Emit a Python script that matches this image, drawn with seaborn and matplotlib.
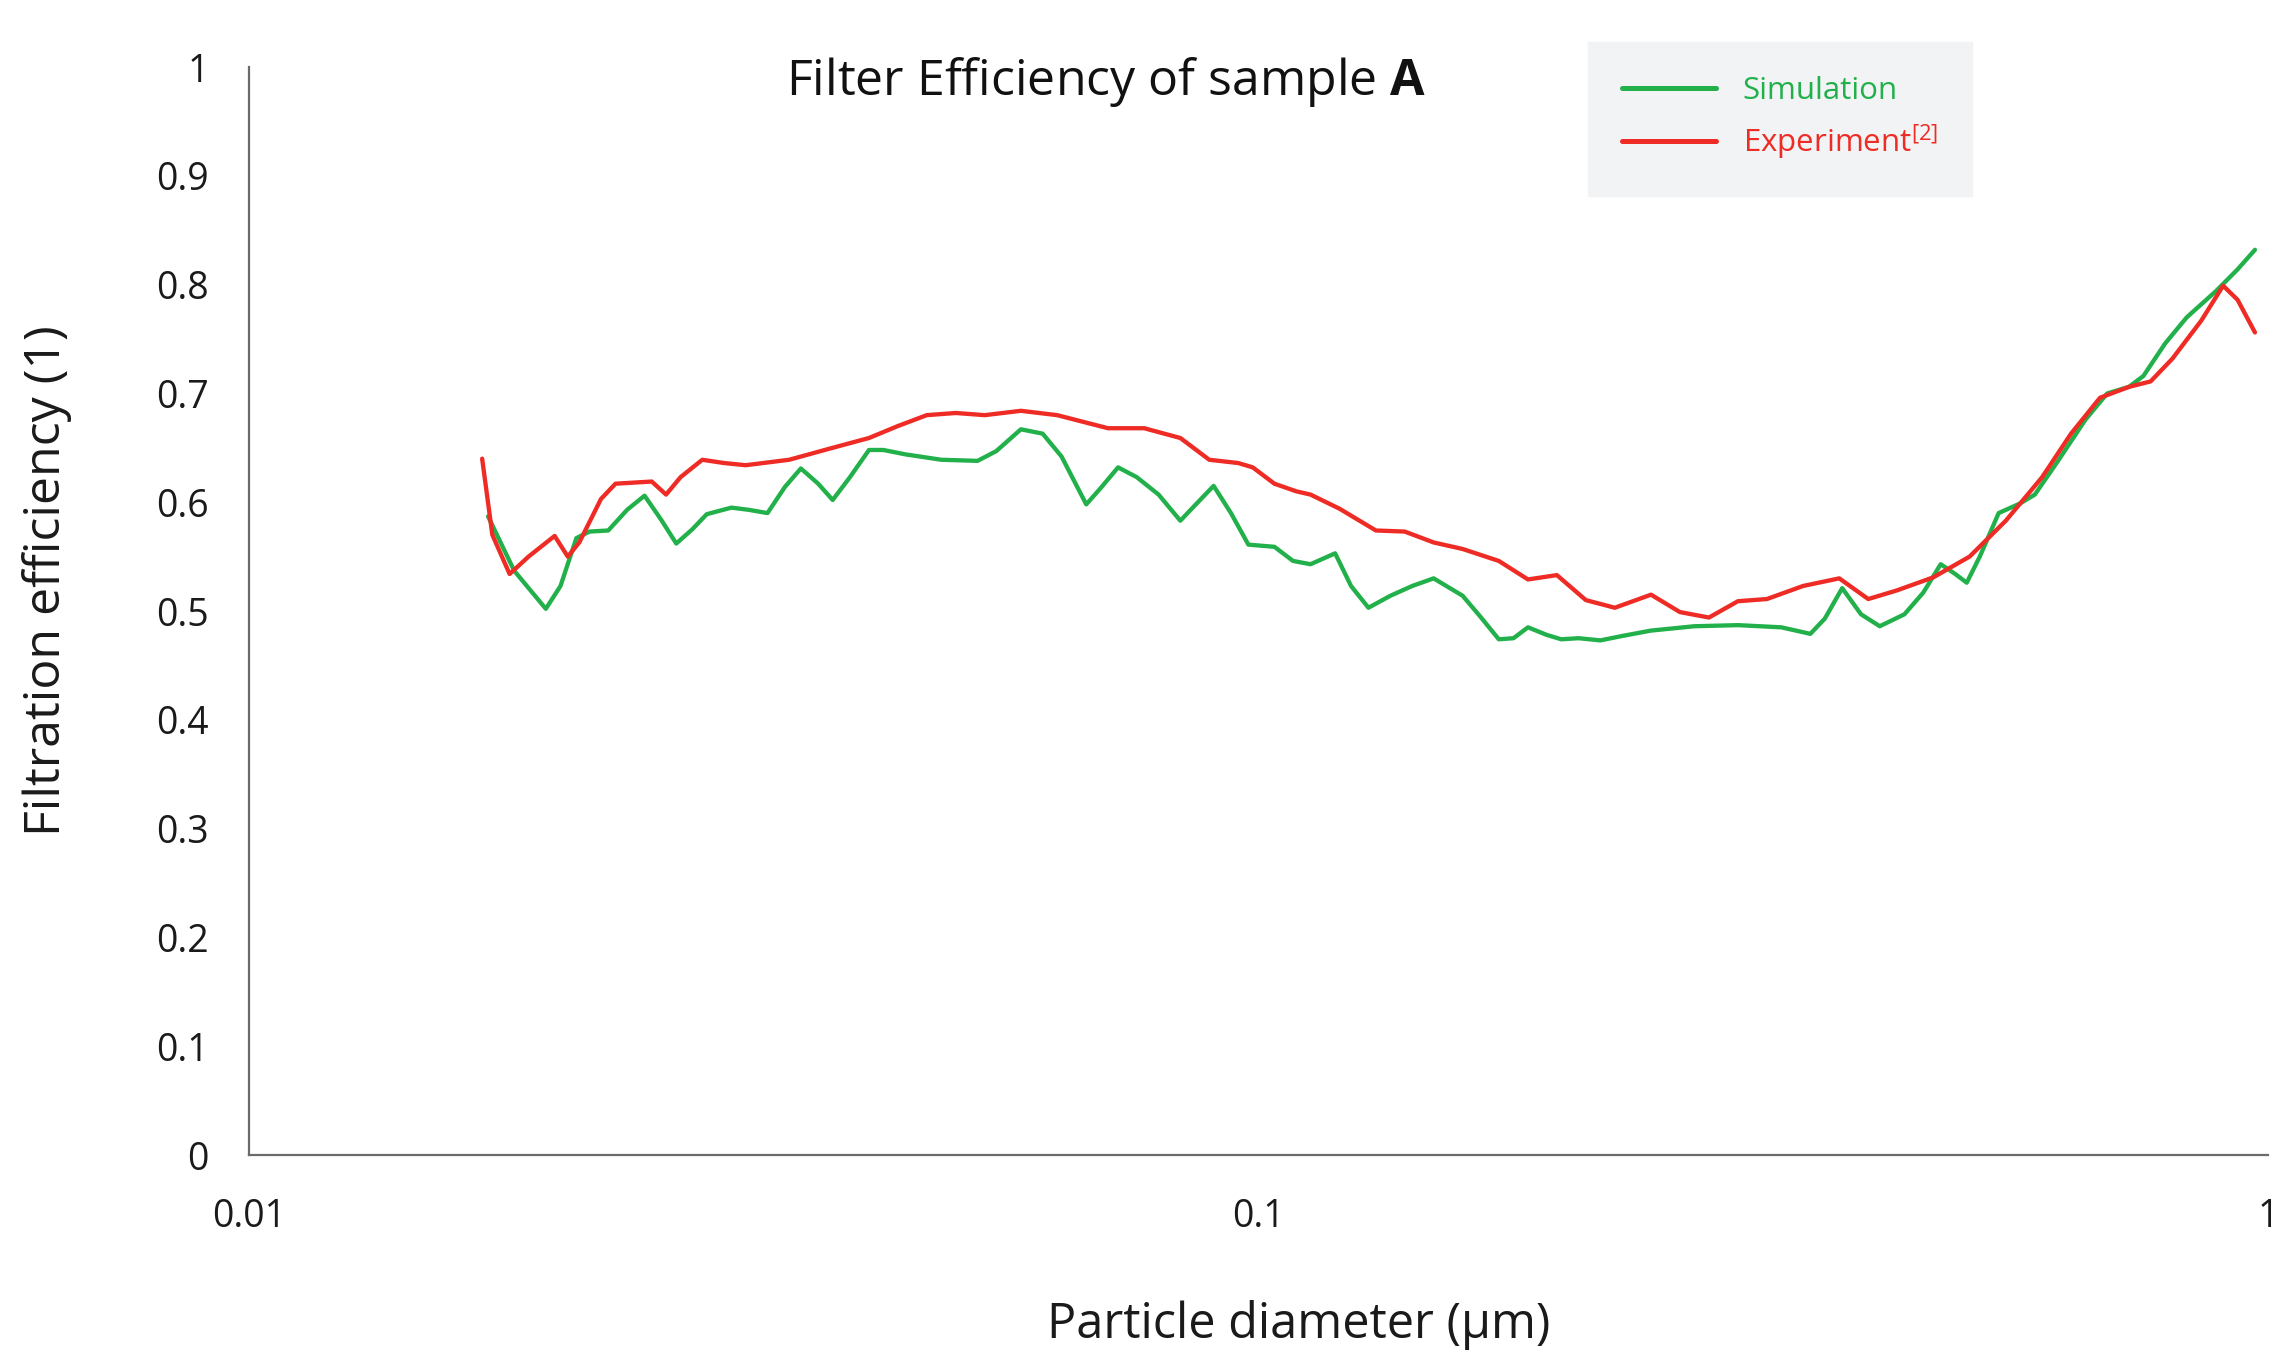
import matplotlib
matplotlib.use("Agg")
import matplotlib.pyplot as plt
import seaborn as sns
import pandas as pd

# ---- data ----
sim_diameter = [0.01725, 0.01831, 0.01968, 0.02035, 0.02110, 0.02174, 0.02269, 0.02369, 0.02465, 0.02564,
                0.02650, 0.02748, 0.02841, 0.03005, 0.03126, 0.03263, 0.03395, 0.03521, 0.03663, 0.03786,
                0.03938, 0.04113, 0.04250, 0.04467, 0.04851, 0.05269, 0.05499, 0.05816, 0.06112, 0.06381,
                0.06751, 0.06977, 0.07259, 0.07576, 0.07962, 0.08367, 0.08648, 0.09027, 0.09391, 0.09772,
                0.1037, 0.1082, 0.1126, 0.1191, 0.1235, 0.1285, 0.1351, 0.1420, 0.1491, 0.1593,
                0.1658, 0.1730, 0.1789, 0.1849, 0.1930, 0.1995, 0.2075, 0.2181, 0.2291, 0.2448,
                0.2703, 0.2985, 0.3295, 0.3521, 0.3639, 0.3786, 0.3952, 0.4125, 0.4364, 0.4556,
                0.4740, 0.4900, 0.5030, 0.5182, 0.5410, 0.5685, 0.5875, 0.6174, 0.6596, 0.6931,
                0.7282, 0.7526, 0.7910, 0.8310, 0.8880, 0.9330, 0.9707]
sim_efficiency = [0.587, 0.537, 0.502, 0.523, 0.567, 0.573, 0.574, 0.593, 0.606, 0.583,
                  0.562, 0.575, 0.589, 0.595, 0.593, 0.590, 0.614, 0.631, 0.617, 0.602,
                  0.623, 0.648, 0.648, 0.644, 0.639, 0.638, 0.647, 0.667, 0.663, 0.642,
                  0.598, 0.613, 0.632, 0.623, 0.607, 0.583, 0.597, 0.615, 0.590, 0.561,
                  0.559, 0.546, 0.543, 0.553, 0.523, 0.503, 0.514, 0.523, 0.530, 0.514,
                  0.495, 0.474, 0.475, 0.485, 0.478, 0.474, 0.475, 0.473, 0.477, 0.482,
                  0.486, 0.487, 0.485, 0.479, 0.493, 0.521, 0.497, 0.486, 0.497, 0.517,
                  0.543, 0.534, 0.526, 0.550, 0.590, 0.599, 0.607, 0.636, 0.676, 0.700,
                  0.706, 0.716, 0.746, 0.770, 0.794, 0.814, 0.832]

exp_diameter = [0.01702, 0.01742, 0.01812, 0.01892, 0.02008, 0.02069, 0.02124, 0.02232, 0.02307, 0.02506,
                0.02589, 0.02676, 0.02812, 0.02955, 0.03105, 0.03428, 0.03786, 0.04113, 0.04393, 0.04692,
                0.05013, 0.05356, 0.05816, 0.06318, 0.07094, 0.07704, 0.08367, 0.08938, 0.09548, 0.09870,
                0.1037, 0.1090, 0.1126, 0.1203, 0.1307, 0.1396, 0.1491, 0.1593, 0.1730, 0.1849,
                0.1975, 0.2110, 0.2254, 0.2448, 0.2615, 0.2794, 0.2985, 0.3189, 0.3463, 0.3761,
                0.4018, 0.4292, 0.4662, 0.5063, 0.5499, 0.5974, 0.6381, 0.6817, 0.7282, 0.7651,
                0.8042, 0.8590, 0.9027, 0.9330, 0.9707]
exp_efficiency = [0.640, 0.570, 0.534, 0.550, 0.569, 0.550, 0.563, 0.603, 0.617, 0.619,
                  0.607, 0.623, 0.639, 0.636, 0.634, 0.639, 0.650, 0.659, 0.670, 0.680,
                  0.682, 0.680, 0.684, 0.680, 0.668, 0.668, 0.659, 0.639, 0.636, 0.632,
                  0.617, 0.610, 0.607, 0.594, 0.574, 0.573, 0.563, 0.557, 0.546, 0.529,
                  0.533, 0.510, 0.503, 0.515, 0.499, 0.494, 0.509, 0.511, 0.523, 0.530,
                  0.511, 0.519, 0.531, 0.550, 0.583, 0.623, 0.663, 0.696, 0.706, 0.711,
                  0.732, 0.767, 0.799, 0.786, 0.756]

series_labels = ["Simulation", "Experiment$^{[2]}$"]
x_ticks = [0.01, 0.1, 1]
x_tick_labels = ["0.01", "0.1", "1"]
y_ticks = [0, 0.1, 0.2, 0.3, 0.4, 0.5, 0.6, 0.7, 0.8, 0.9, 1.0]
y_tick_labels = ["0", "0.1", "0.2", "0.3", "0.4", "0.5", "0.6", "0.7", "0.8", "0.9", "1"]

GREEN = "#22b04b"
RED = "#ee2b24"

sns.set_theme(style="white")
plt.rcParams["font.family"] = ["Open Sans", "DejaVu Sans"]
plt.rcParams["mathtext.fontset"] = "custom"
plt.rcParams["mathtext.rm"] = "Open Sans"
plt.rcParams["mathtext.it"] = "Open Sans:italic"
plt.rcParams["mathtext.bf"] = "Open Sans:bold"

fig = plt.figure(figsize=(22.71, 13.57), dpi=100, facecolor="white")
ax = fig.add_axes([249 / 2271, 1 - 1155 / 1357, (2268 - 249) / 2271, (1155 - 67) / 1357])
ax.set_facecolor("white")

sim_df = pd.DataFrame({"d": sim_diameter, "eff": sim_efficiency})
exp_df = pd.DataFrame({"d": exp_diameter, "eff": exp_efficiency})

sns.lineplot(data=sim_df, x="d", y="eff", ax=ax, color=GREEN, lw=3.1, sort=False,
             estimator=None, label=series_labels[0])
sns.lineplot(data=exp_df, x="d", y="eff", ax=ax, color=RED, lw=3.1, sort=False,
             estimator=None, label=series_labels[1])
for ln in ax.get_lines():
    ln.set_solid_joinstyle("round")
    ln.set_solid_capstyle("round")

ax.set_xscale("log")
ax.set_xlim(0.01, 1)
ax.set_ylim(0, 1)
ax.set_xticks(x_ticks)
ax.set_xticklabels(x_tick_labels)
ax.xaxis.set_minor_locator(matplotlib.ticker.NullLocator())
ax.set_yticks(y_ticks)
ax.set_yticklabels(y_tick_labels)

for s in ["top", "right"]:
    ax.spines[s].set_visible(False)
for s in ["left", "bottom"]:
    ax.spines[s].set_color("#6b6b6b")
    ax.spines[s].set_linewidth(1.6)

ax.tick_params(axis="both", which="major", direction="out", length=12, width=1.4,
               color="#6b6b6b", labelsize=27, labelcolor="#1a1a1a")
ax.tick_params(axis="y", pad=17)
ax.tick_params(axis="x", pad=19)

ax.set_xlabel("Particle diameter (µm)", fontsize=35, color="#1a1a1a")
ax.set_ylabel("Filtration efficiency (1)", fontsize=36, color="#1a1a1a")
ax.xaxis.set_label_coords(0.52, -0.133)
ax.yaxis.set_label_coords(-0.0877, 0.528)

fig.text(0.487, 1 - 82 / 1357, r"Filter Efficiency of sample $\mathbf{A}$",
         ha="center", va="center", fontsize=36, color="#111111")

handles, labels = ax.get_legend_handles_labels()
leg = ax.legend(handles, labels, loc="upper left",
                bbox_to_anchor=(1588 / 2271, 1 - 42 / 1357), bbox_transform=fig.transFigure,
                borderaxespad=0, fontsize=22.5, frameon=True, fancybox=False,
                facecolor="#f2f3f5", edgecolor="#f2f3f5", framealpha=1,
                handlelength=3.0, handletextpad=0.85, labelspacing=0.5, borderpad=1.1)
for line in leg.get_lines():
    line.set_linewidth(3.6)
for txt, col in zip(leg.get_texts(), [GREEN, RED]):
    txt.set_color(col)

fig.savefig("out.png", dpi=100, facecolor="white")
